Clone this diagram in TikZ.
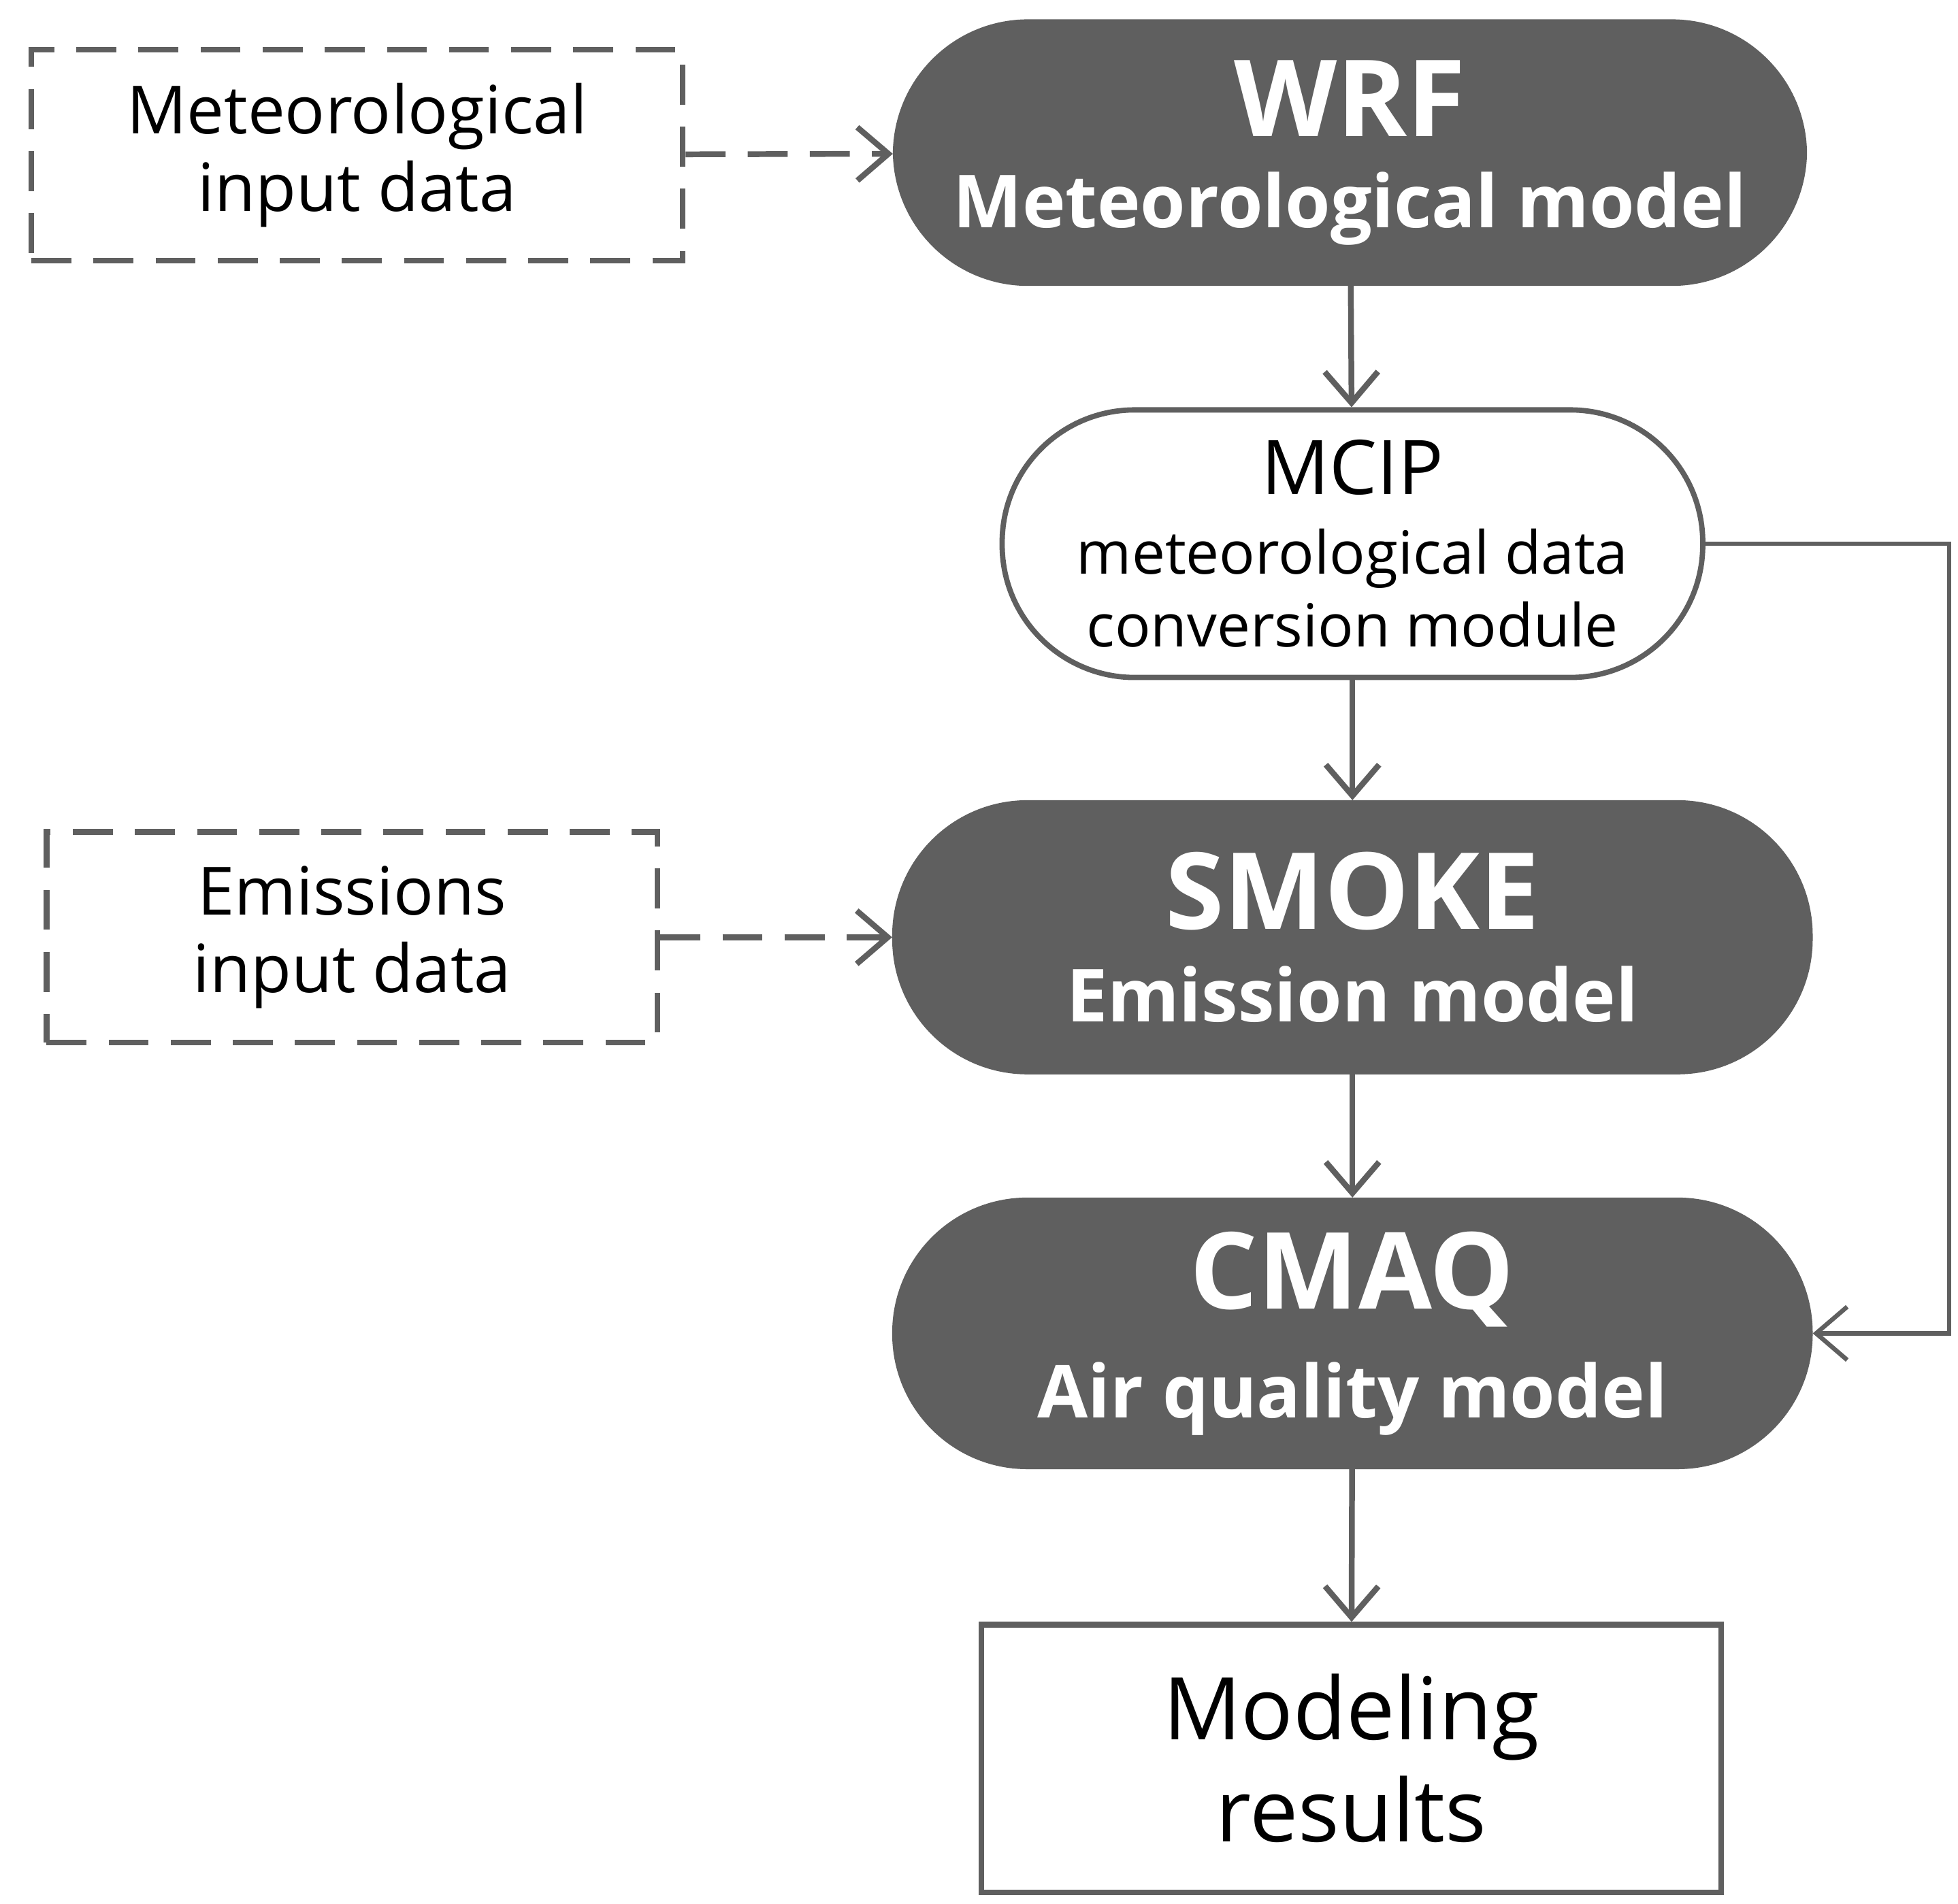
\documentclass[tikz,border=0pt]{standalone}
\usepackage{fontspec}
\setmainfont{Open Sans}
\usetikzlibrary{arrows.meta}
\definecolor{dg}{HTML}{5F5F5F}
\begin{document}
\begin{tikzpicture}[x=0.01cm,y=-0.01cm,
  pill/.style={draw=dg,line width=1.2pt,fill=dg,text=white,rounded corners=1.05cm,align=center,inner sep=0pt},
  wpill/.style={pill,fill=white,text=black},
  dbox/.style={draw=dg,line width=1.3pt,dash pattern=on 9pt off 5pt,align=center,inner sep=0pt,font=\fontsize{15}{17.5}\selectfont},
  arr/.style={draw=dg,line width=1.3pt,-{Straight Barb[length=7pt,width=12pt]}}]
\useasboundingbox (0,0) rectangle (1552,1509);
\node[pill,minimum width=7.2cm,minimum height=2.07cm] (wrf) at (1070,121) {{\fontsize{24}{26}\selectfont\bfseries WRF}\\[7pt]{\fontsize{16.5}{22}\selectfont\bfseries Meteorological model}};
\node[wpill,minimum width=5.55cm,minimum height=2.12cm] (mcip) at (1072,431) {{\fontsize{17}{19}\selectfont MCIP}\\[6pt]{\fontsize{13.4}{19}\selectfont meteorological data}\\[2pt]{\fontsize{13.4}{15.5}\selectfont conversion module}};
\node[pill,minimum width=7.25cm,minimum height=2.13cm] (smoke) at (1072,743) {{\fontsize{24}{26}\selectfont\bfseries SMOKE}\\[7pt]{\fontsize{16.5}{22}\selectfont\bfseries Emission model}};
\node[pill,minimum width=7.25cm,minimum height=2.11cm] (cmaq) at (1072,1057) {{\fontsize{24}{26}\selectfont\bfseries CMAQ}\\[7pt]{\fontsize{16.5}{22}\selectfont\bfseries Air quality model}};
\node[draw=dg,line width=1.3pt,minimum width=5.86cm,minimum height=2.12cm,align=center,inner sep=0pt,font=\fontsize{19.5}{23}\selectfont] (res) at (1071,1394) {Modeling\\results};
\node[dbox,minimum width=5.16cm,minimum height=1.67cm] (met) at (283,123) {Meteorological\\input data};
\node[dbox,minimum width=4.84cm,minimum height=1.67cm] (emis) at (279,743) {Emissions\\input data};
\draw[arr] (wrf) -- (mcip);
\draw[arr] (mcip) -- (smoke);
\draw[arr] (smoke) -- (cmaq);
\draw[arr] (cmaq) -- (res);
\draw[arr,dash pattern=on 9pt off 5pt] (met) -- (wrf);
\draw[arr,dash pattern=on 9pt off 5pt] (emis) -- (smoke);
\coordinate (r1) at (1545,431);
\coordinate (r2) at (1545,1057);
\draw[arr,line width=1pt] (mcip.east) -- (r1) -- (r2) -- (cmaq.east);
\end{tikzpicture}
\end{document}
